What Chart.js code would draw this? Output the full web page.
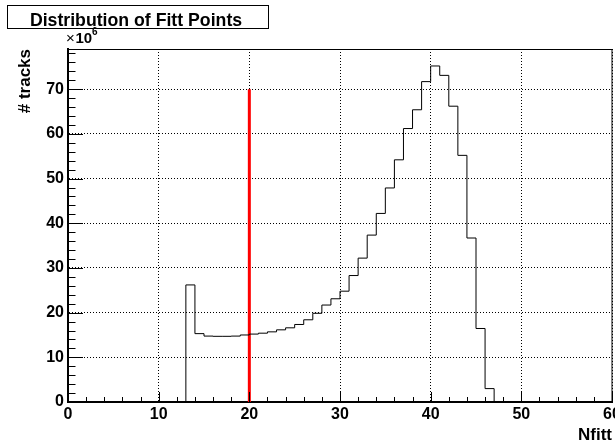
<!DOCTYPE html>
<html lang="en">
<head>
  <meta charset="UTF-8" />
  <title>Distribution of Fitt Points</title>
  <script src="https://cdn.jsdelivr.net/npm/chart.js"></script>
  <style>
    body {
      margin: 0;
      background: #fff;
    }
    #histo {
      display: block;
    }
  </style>
</head>
<body>
  <canvas id="histo" width="615" height="443"></canvas>

  <script>
    // histogram: 60 bins of width 1 from 0 to 60, contents in units of 10^6 tracks
    const binStart = 0;
    const binWidth = 1;
    const counts = [
      0, 0, 0, 0, 0, 0, 0, 0, 0, 0,
      0, 0, 0, 26.2, 15.3, 14.75, 14.7, 14.7, 14.75, 15.0,
      15.2, 15.4, 15.7, 16.15, 16.6, 17.35, 18.4, 19.85, 21.7, 23.1,
      24.8, 28.3, 32.2, 37.35, 42.2, 47.9, 54.2, 61.2, 65.4, 71.7,
      75.2, 73.1, 66.2, 55.2, 36.7, 16.45, 3.0, 0, 0, 0,
      0, 0, 0, 0, 0, 0, 0, 0, 0, 0
    ];
    // cut line
    const cutX = 20;
    const cutTop = 70;

    const xTickValues = [0, 10, 20, 30, 40, 50, 60];
    const yTickValues = [0, 10, 20, 30, 40, 50, 60, 70];
    const yMax = 79;

    const FONT = "'Liberation Sans', Arial, Helvetica, sans-serif";

    // left bin edges with contents, plus the closing edge
    const histPoints = counts.map((c, i) => ({ x: binStart + i * binWidth, y: c }));
    histPoints.push({ x: binStart + counts.length * binWidth, y: 0 });

    // ROOT style: ticks inside the frame, thin top/right frame, title box, exponent
    const rootDecor = {
      id: 'rootDecor',
      afterDatasetsDraw(chart) {
        const { ctx, chartArea: a } = chart;
        const xs = chart.scales.x, ys = chart.scales.y;
        ctx.save();
        ctx.strokeStyle = '#000';
        ctx.lineWidth = 1;
        ctx.beginPath();
        for (let v = 0; v <= 60; v += 2) {
          const px = Math.round(xs.getPixelForValue(v)) + 0.5;
          const len = v % 10 === 0 ? 10 : 5;
          ctx.moveTo(px, a.bottom);
          ctx.lineTo(px, a.bottom - len);
        }
        for (let v = 0; v <= 78; v += 2) {
          const py = Math.round(ys.getPixelForValue(v)) + 0.5;
          const len = v % 10 === 0 ? 15 : 7.5;
          ctx.moveTo(a.left, py);
          ctx.lineTo(a.left + len, py);
        }
        ctx.stroke();
        // top and right frame
        ctx.beginPath();
        ctx.moveTo(a.left, a.top + 0.5);
        ctx.lineTo(a.right, a.top + 0.5);
        ctx.moveTo(a.right, a.top);
        ctx.lineTo(a.right, a.bottom);
        ctx.stroke();
        ctx.restore();
      },
      afterDraw(chart) {
        const { ctx } = chart;
        ctx.save();
        // title box
        ctx.fillStyle = '#fff';
        ctx.fillRect(7.5, 5.5, 261, 23);
        ctx.strokeStyle = '#000';
        ctx.lineWidth = 1;
        ctx.strokeRect(7.5, 5.5, 261, 23);
        ctx.fillStyle = '#000';
        ctx.font = 'bold 17.7px ' + FONT;
        ctx.textAlign = 'center';
        ctx.textBaseline = 'alphabetic';
        ctx.fillText('Distribution of Fitt Points', 136, 26);
        // x10^6 exponent
        ctx.textAlign = 'left';
        ctx.font = '15px ' + FONT;
        ctx.fillText('\u00d7', 66, 43);
        ctx.font = 'bold 15px ' + FONT;
        ctx.fillText('10', 75.5, 43);
        ctx.font = 'bold 10px ' + FONT;
        ctx.fillText('6', 92, 35);
        ctx.restore();
      }
    };

    const ctx = document.getElementById('histo').getContext('2d');

    const chart = new Chart(ctx, {
      type: 'line',
      data: {
        datasets: [
          {
            label: 'Nfitt',
            data: histPoints,
            stepped: 'before',
            borderColor: '#000',
            borderWidth: 1,
            pointRadius: 0,
            fill: false
          },
          {
            label: 'cut',
            data: [{ x: cutX, y: 0 }, { x: cutX, y: cutTop }],
            borderColor: '#ff0000',
            borderWidth: 3,
            pointRadius: 0,
            fill: false
          }
        ]
      },
      options: {
        responsive: false,
        animation: false,
        layout: {
          padding: { top: 49, right: 3, left: 0, bottom: 0 }
        },
        plugins: {
          legend: { display: false },
          tooltip: { enabled: false }
        },
        scales: {
          x: {
            type: 'linear',
            min: 0,
            max: 60,
            afterBuildTicks: s => { s.ticks = xTickValues.map(v => ({ value: v })); },
            afterFit: s => { s.height = 41; s.paddingLeft = 0; s.paddingRight = 0; },
            ticks: {
              color: '#000',
              font: { family: FONT, size: 16, weight: 'bold' },
              padding: 3,
              maxRotation: 0,
              autoSkip: false
            },
            grid: {
              color: '#000',
              lineWidth: 1,
              drawTicks: false
            },
            border: { display: true, color: '#000', width: 2, dash: [1, 2] },
            title: {
              display: true,
              text: 'Nfitt',
              align: 'end',
              color: '#000',
              font: { family: FONT, size: 17, weight: 'bold' },
              padding: { top: 0, bottom: -3 }
            }
          },
          y: {
            type: 'linear',
            min: 0,
            max: yMax,
            afterBuildTicks: s => { s.ticks = yTickValues.map(v => ({ value: v })); },
            afterFit: s => { s.width = 68; s.paddingTop = 0; s.paddingBottom = 0; },
            ticks: {
              color: '#000',
              font: { family: FONT, size: 16, weight: 'bold' },
              padding: 4,
              autoSkip: false
            },
            grid: {
              color: '#000',
              lineWidth: 1,
              drawTicks: false
            },
            border: { display: true, color: '#000', width: 2, dash: [1, 2] },
            title: {
              display: true,
              text: '# tracks',
              align: 'end',
              color: '#000',
              font: { family: FONT, size: 17, weight: 'bold' },
              padding: { top: 15, bottom: 0 }
            }
          }
        }
      },
      plugins: [rootDecor]
    });
  </script>
</body>
</html>
